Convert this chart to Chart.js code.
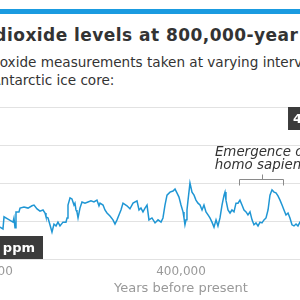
<!DOCTYPE html>
<html>
<head>
<meta charset="utf-8">
<script src="https://cdn.jsdelivr.net/npm/chart.js@4"></script>
<style>
  body { margin: 0; width: 300px; height: 300px; overflow: hidden; position: relative; background: #fff; font-family: "DejaVu Sans", sans-serif; }
  #bar { position: absolute; left: 0; top: 9px; width: 300px; height: 5px; background: #1a9be0; }
  #title { position: absolute; left: -83px; top: 25px; white-space: nowrap; font-weight: bold; font-size: 17px; letter-spacing: 0.45px; color: #333; }
  #sub { position: absolute; left: -66px; top: 53px; white-space: nowrap; font-size: 13.6px; line-height: 18px; color: #333; }
  #wrap { position: absolute; left: -245px; top: 95px; width: 830px; height: 203px; }
</style>
</head>
<body>
<div id="bar"></div>
<div id="title">Carbon dioxide levels at 800,000-year high</div>
<div id="sub">Carbon dioxide measurements taken at varying intervals<br>from an Antarctic ice core:</div>
<div id="wrap"><canvas id="myChart"></canvas></div>
<script>
// years before present and CO2 (ppm)
var years = [590000, 587600, 584500, 583400, 579300, 574100, 573100, 572000, 571000, 567900, 566800,
  562700, 558500, 554400, 552300, 549200, 546100, 543000, 540900, 539900, 537800,
  535800, 533700, 531600, 529500, 527500, 525400, 522300, 519200, 518100, 517100,
  515000, 513000, 510900, 509900, 508800, 507800, 506700, 504700, 502600, 499500,
  496400, 493300, 490200, 487100, 485000, 483900, 480800, 478800, 476700, 473600,
  470500, 468400, 466300, 464300, 462200, 460100, 456000, 452900, 449700, 445600,
  443500, 441500, 439400, 437300, 435200, 433200, 430100, 426900, 423800, 420700,
  418700, 416600, 414500, 411400, 408300, 406200, 404200, 402100, 400000, 397900,
  396900, 395900, 394800, 393800, 392700, 390700, 388600, 386500, 384500, 382400,
  380300, 378200, 376200, 374100, 372000, 370000, 367900, 365800, 363700, 361700,
  359600, 357500, 355400, 354400, 353400, 351300, 349200, 347200, 345100, 343000,
  340900, 338900, 336800, 334700, 332600, 330600, 328500, 326400, 324400, 322300,
  320200, 318100, 316100, 314000, 311900, 309800, 307800, 305700, 303600, 301600,
  299500, 297400, 295300, 293300, 291200, 289100, 287100, 285000, 282900, 280800,
  278800, 276700, 274000];
var ppm = [186, 184, 179, 211, 205, 197, 208, 182, 224, 224, 234,
  237, 234, 240, 242, 232, 226, 229, 221, 211, 208,
  190, 171, 192, 187, 197, 187, 197, 197, 208, 242,
  261, 258, 242, 247, 229, 224, 208, 234, 250, 247,
  250, 253, 250, 255, 240, 247, 242, 229, 221, 213,
  203, 192, 203, 216, 229, 247, 240, 232, 247, 253,
  229, 234, 224, 234, 242, 203, 208, 195, 203, 197,
  208, 242, 268, 276, 279, 284, 274, 263, 242, 224,
  208, 190, 203, 229, 255, 300, 276, 268, 255, 247,
  242, 229, 242, 224, 216, 208, 197, 184, 203, 187,
  208, 242, 268, 276, 255, 229, 221, 229, 224, 247,
  247, 255, 242, 229, 224, 216, 224, 203, 190, 195,
  187, 197, 195, 203, 208, 229, 268, 282, 276, 274,
  266, 255, 242, 229, 216, 221, 208, 190, 187, 192,
  187, 197, 192];
var xTicks = [800000, 600000, 400000, 200000, 0];

var labelBoxes = [
  { text: "410 ppm", x: 289100, y: 500, side: "left", vert: "top" },
  { text: "172 ppm", x: 543000, y: 100, side: "right", vert: "bottom" },
];
var bracket = { from: 340000, to: 294300, y: 310, lines: ["Emergence of", "homo sapiens"] };

var notes = {
  id: "notes",
  afterDatasetsDraw(chart) {
    const ctx = chart.ctx;
    const xs = chart.scales.x;
    const ys = chart.scales.y;
    ctx.save();
    // bracket
    const bx1 = Math.round(xs.getPixelForValue(bracket.from)) + 0.5;
    const bx2 = Math.round(xs.getPixelForValue(bracket.to)) + 0.5;
    const by = Math.round(ys.getPixelForValue(bracket.y)) + 0.5;
    const mid = Math.round((bx1 + bx2) / 2) + 0.5;
    ctx.strokeStyle = "#8a8a8a";
    ctx.lineWidth = 1;
    ctx.beginPath();
    ctx.moveTo(bx1, by + 6);
    ctx.lineTo(bx1, by);
    ctx.lineTo(bx2, by);
    ctx.lineTo(bx2, by + 6);
    ctx.moveTo(mid, by);
    ctx.lineTo(mid, by - 5);
    ctx.stroke();
    ctx.fillStyle = "#333";
    ctx.font = "italic 13.4px 'DejaVu Sans'";
    ctx.textAlign = "center";
    ctx.textBaseline = "alphabetic";
    ctx.fillText(bracket.lines[0], mid - 1, by - 24);
    ctx.fillText(bracket.lines[1], mid - 1, by - 11);
    // dark label boxes
    ctx.font = "bold 13px 'DejaVu Sans'";
    labelBoxes.forEach((b) => {
      const w = ctx.measureText(b.text).width + 13;
      const h = 23;
      const px = xs.getPixelForValue(b.x);
      const py = ys.getPixelForValue(b.y);
      const left = b.side === "left" ? px : px - w;
      const top = b.vert === "top" ? py : py - h;
      ctx.fillStyle = "#3b3b3b";
      ctx.fillRect(left, top, w, h);
      ctx.fillStyle = "#fff";
      ctx.textAlign = "left";
      ctx.textBaseline = "middle";
      ctx.fillText(b.text, left + 5, top + h / 2 + 1);
    });
    ctx.restore();
  },
};

new Chart(document.getElementById("myChart"), {
  type: "line",
  data: {
    datasets: [
      {
        data: years.map((v, i) => ({ x: v, y: ppm[i] })),
        borderColor: "#1f96d4",
        borderWidth: 1.5,
        pointRadius: 0,
        tension: 0,
      },
    ],
  },
  options: {
    responsive: true,
    maintainAspectRatio: false,
    animation: false,
    layout: { padding: { left: 40, right: 18, top: 12, bottom: 1 } },
    plugins: { legend: { display: false }, tooltip: { enabled: false } },
    scales: {
      x: {
        type: "linear",
        reverse: true,
        min: 0,
        max: 800000,
        afterBuildTicks: (scale) => {
          scale.ticks = xTicks.map((v) => ({ value: v }));
        },
        ticks: {
          color: "#999",
          font: { family: "DejaVu Sans", size: 12, lineHeight: 1 },
          padding: 7,
          maxRotation: 0,
          callback: (v) => v.toLocaleString("en-US"),
        },
        grid: { display: false, drawTicks: false },
        border: { display: false },
        title: {
          display: true,
          text: "Years before present",
          color: "#999",
          font: { family: "DejaVu Sans", size: 13, lineHeight: 0.615 },
          padding: { top: 0, bottom: 4 },
        },
      },
      y: {
        min: 100,
        max: 500,
        ticks: { display: false, stepSize: 100 },
        grid: { color: "#e2e2e2", drawTicks: false },
        border: { display: false },
      },
    },
  },
  plugins: [notes],
});
</script>
</body>
</html>
